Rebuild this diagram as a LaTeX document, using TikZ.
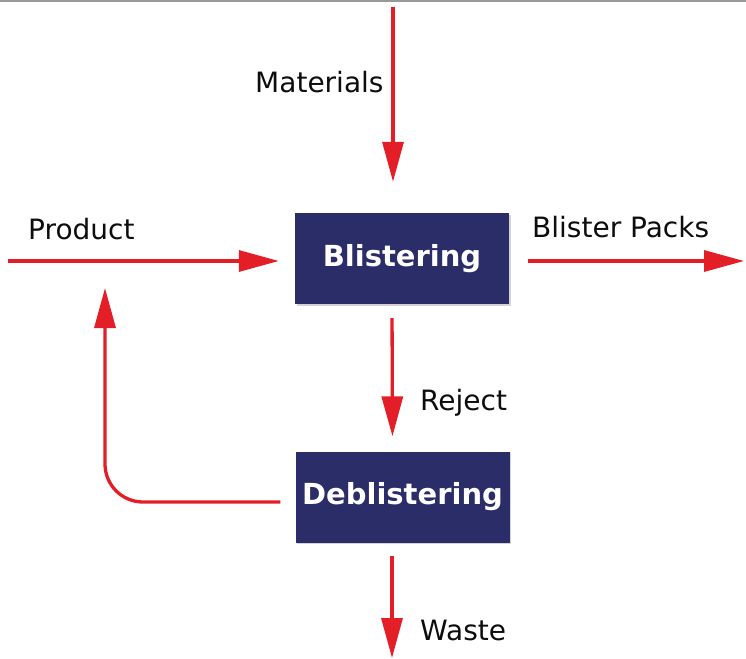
\documentclass[tikz,border=0pt]{standalone}
\usepackage{fontspec}
\setmainfont{DejaVu Sans}
\usetikzlibrary{arrows.meta,shadows}
\definecolor{flowred}{RGB}{228,30,38}
\definecolor{boxnavy}{RGB}{43,45,105}
\tikzset{
  procbox/.style={rectangle, fill=boxnavy, text=white, inner sep=0pt,
    minimum width=214pt, minimum height=91pt,
    font=\fontsize{29}{30}\selectfont\bfseries,
    drop shadow={shadow xshift=1.5pt, shadow yshift=-1.5pt, opacity=0.35}},
  flow/.style={draw=flowred, line width=3.3pt,
    -{Triangle[length=40pt,width=21pt]}},
  lbl/.style={anchor=base west, inner sep=0pt, text=black!95,
    font=\fontsize{28}{30}\selectfont}
}
\begin{document}
\begin{tikzpicture}[x=1pt,y=-1pt]
\useasboundingbox (0,0) rectangle (746,658);
\fill[black!40] (0,0) rectangle (746,2.5);
% boxes
\node[procbox] (blis) at (402,258.5) {Blistering};
\node[procbox] (debl) at (402.5,497) {Deblistering};
% free ends
\coordinate (matin) at (393,7);
\coordinate (prodin) at (8,261);
\coordinate (packout) at (744,261);
\coordinate (wasteout) at (392,658);
\coordinate (retup) at (105,288);
% connectors
\draw[flow, shorten >=31pt] (matin) -- (matin |- blis.north);
\draw[flow, shorten >=16pt] (prodin) -- (prodin -| blis.west);
\draw[flow, shorten <=19pt] (packout -| blis.east) -- (packout);
\draw[flow, shorten <=14pt, shorten >=15pt] ([xshift=-10pt]blis.south) -- ([xshift=-10pt]debl.north);
\draw[flow, shorten <=13pt] ([xshift=-10.5pt]debl.south) -- (wasteout);
\draw[flow, rounded corners=38pt, shorten <=15pt] ([yshift=-5pt]debl.west) -| (retup);
% labels
\node[lbl] (lmat) at (255,93) {Materials};
\node[lbl] (lprod) at (28,239) {Product};
\node[lbl] (lpack) at (532,237) {Blister Packs};
\node[lbl] (lrej) at (420,410) {Reject};
\node[lbl] (lwaste) at (420,640) {Waste};
\end{tikzpicture}
\end{document}
